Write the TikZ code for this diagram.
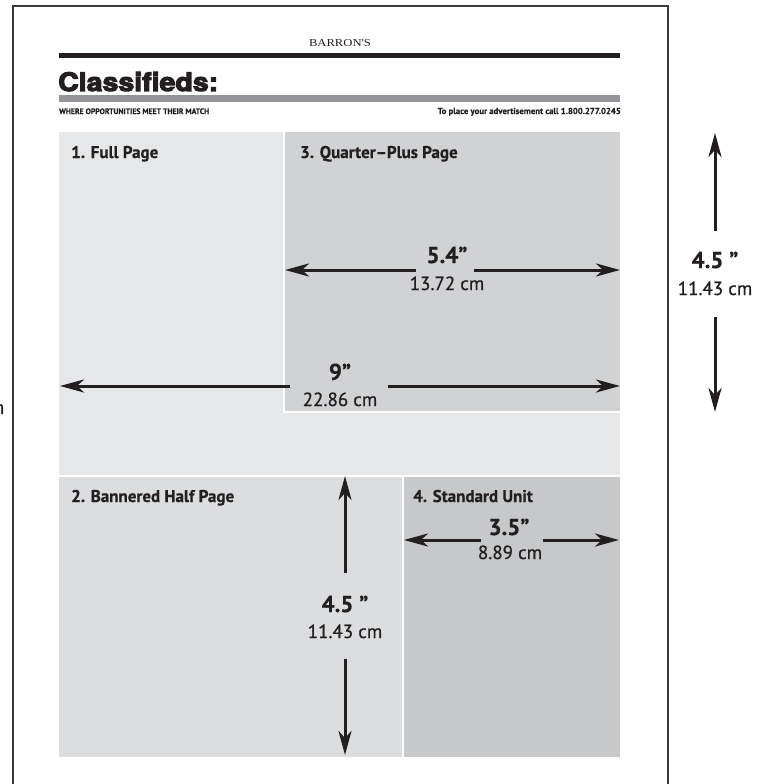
\documentclass[tikz,border=0pt]{standalone}
\usepackage{fontspec}
\usepackage{graphicx}
\setmainfont{PT Sans}[BoldFeatures={FakeBold=0.6}]
\newfontfamily\semifont{PT Sans}[FakeBold=0.7]
\newfontfamily\seriffont{Liberation Serif}
\newfontfamily\heavyfont{TeX Gyre Heros}[BoldFeatures={FakeBold=4}]
\usetikzlibrary{arrows.meta}
\definecolor{ink}{HTML}{231F20}
\definecolor{barg}{HTML}{939598}
\definecolor{pone}{HTML}{E6E7E8}
\definecolor{ptwo}{HTML}{DCDDDF}
\definecolor{pthree}{HTML}{D1D2D4}
\definecolor{pfour}{HTML}{C7C8CA}
\definecolor{framec}{HTML}{3A3A3A}
\tikzset{
  dimarrow/.style={draw=ink, line width=3pt, -{Stealth[length=24pt,width=13pt,inset=7pt]}},
  titlelbl/.style={anchor=base west, inner sep=0pt, text=ink, font=\fontsize{17}{20}\selectfont\bfseries},
  dimlbl/.style={anchor=base, inner sep=0pt, text=ink, font=\fontsize{23}{26}\selectfont\bfseries},
  cmlbl/.style={anchor=base, inner sep=0pt, text=ink, font=\fontsize{19}{22}\semifont},
  sep/.style={draw=white, line width=1.3pt}
}
\begin{document}
\begin{tikzpicture}[x=1pt,y=-1pt]
\useasboundingbox (0,0) rectangle (766,784);
\fill[white] (0,0) rectangle (766,784);
% page frame
\draw[framec, line width=1.3pt] (13,790) -- (13,6) -- (668,6) -- (668,790);
% header
\node[anchor=base, inner sep=0pt, text=ink] (barrons) at (340,46) {\resizebox{62pt}{7pt}{\seriffont BARRON'S}};
\fill[ink] (59,53) rectangle (620,58);
\node[anchor=base west, inner sep=0pt, text=ink] (classif) at (58,91) {\resizebox{160pt}{19pt}{\heavyfont\bfseries Classifieds:}};
\fill[barg] (59,95) rectangle (620,102);
\node[anchor=base west, inner sep=0pt, text=ink] (tagl) at (59,114) {\resizebox{150pt}{5.6pt}{\bfseries WHERE OPPORTUNITIES MEET THEIR MATCH}};
\node[anchor=base east, inner sep=0pt, text=ink] (tagr) at (621,114) {\resizebox{183pt}{6.2pt}{\bfseries To place your advertisement call 1.800.277.0245}};
% panels
\fill[pone] (59,132) rectangle (620,476);
\fill[pthree] (284,132) rectangle (620,412);
\draw[sep] (284,132) -- (284,412) -- (620,412);
\fill[ptwo] (59,476) rectangle (403,757);
\fill[pfour] (403,476) rectangle (620,757);
\draw[sep] (59,476) -- (620,476);
\draw[sep] (403,476) -- (403,757);
% titles
\node[titlelbl] (t1) at (71,158) {1. Full Page};
\node[titlelbl] (t3) at (300,158) {3. Quarter–Plus Page};
\node[titlelbl] (t2) at (71,502) {2. Bannered Half Page};
\node[titlelbl] (t4) at (413,502) {4. Standard Unit};
% 5.4 dimension
\node[dimlbl] (d54) at (447,263) {5.4”};
\node[cmlbl] (c54) at (447,290) {13.72 cm};
\coordinate (a54l) at (416,270); \coordinate (e54l) at (285,270);
\coordinate (a54r) at (474,270); \coordinate (e54r) at (620,270);
\draw[dimarrow] (a54l) -- (e54l);
\draw[dimarrow] (a54r) -- (e54r);
% 9 dimension
\node[dimlbl] (d9) at (340,380) {9”};
\node[cmlbl] (c9) at (340,406) {22.86 cm};
\coordinate (a9l) at (290,386); \coordinate (e9l) at (60,386);
\coordinate (a9r) at (388,386); \coordinate (e9r) at (620,386);
\draw[dimarrow] (a9l) -- (e9l);
\draw[dimarrow] (a9r) -- (e9r);
% right vertical 4.5
\node[dimlbl] (d45r) at (715,268) {4.5 ”};
\node[cmlbl] (c45r) at (715,295) {11.43 cm};
\coordinate (a45ru) at (715,231); \coordinate (e45ru) at (715,133);
\coordinate (a45rd) at (715,317); \coordinate (e45rd) at (715,412);
\draw[dimarrow] (a45ru) -- (e45ru);
\draw[dimarrow] (a45rd) -- (e45rd);
% left cut-off label (only its last letter shows in the reference)
\node[anchor=base east, inner sep=0pt, text=ink, font=\fontsize{19}{22}\semifont] (cut) at (4.5,414) {11.43 cm};
% lower vertical 4.5
\node[dimlbl] (d45l) at (345,612) {4.5 ”};
\node[cmlbl] (c45l) at (345,638) {11.43 cm};
\coordinate (a45lu) at (345,573); \coordinate (e45lu) at (345,476);
\coordinate (a45ld) at (345,659); \coordinate (e45ld) at (345,755);
\draw[dimarrow] (a45lu) -- (e45lu);
\draw[dimarrow] (a45ld) -- (e45ld);
% 3.5 dimension
\node[dimlbl] (d35) at (509,535) {3.5”};
\node[cmlbl] (c35) at (510,559) {8.89 cm};
\coordinate (a35l) at (481,540); \coordinate (e35l) at (404,540);
\coordinate (a35r) at (543,540); \coordinate (e35r) at (619,540);
\draw[dimarrow] (a35l) -- (e35l);
\draw[dimarrow] (a35r) -- (e35r);
\end{tikzpicture}
\end{document}
